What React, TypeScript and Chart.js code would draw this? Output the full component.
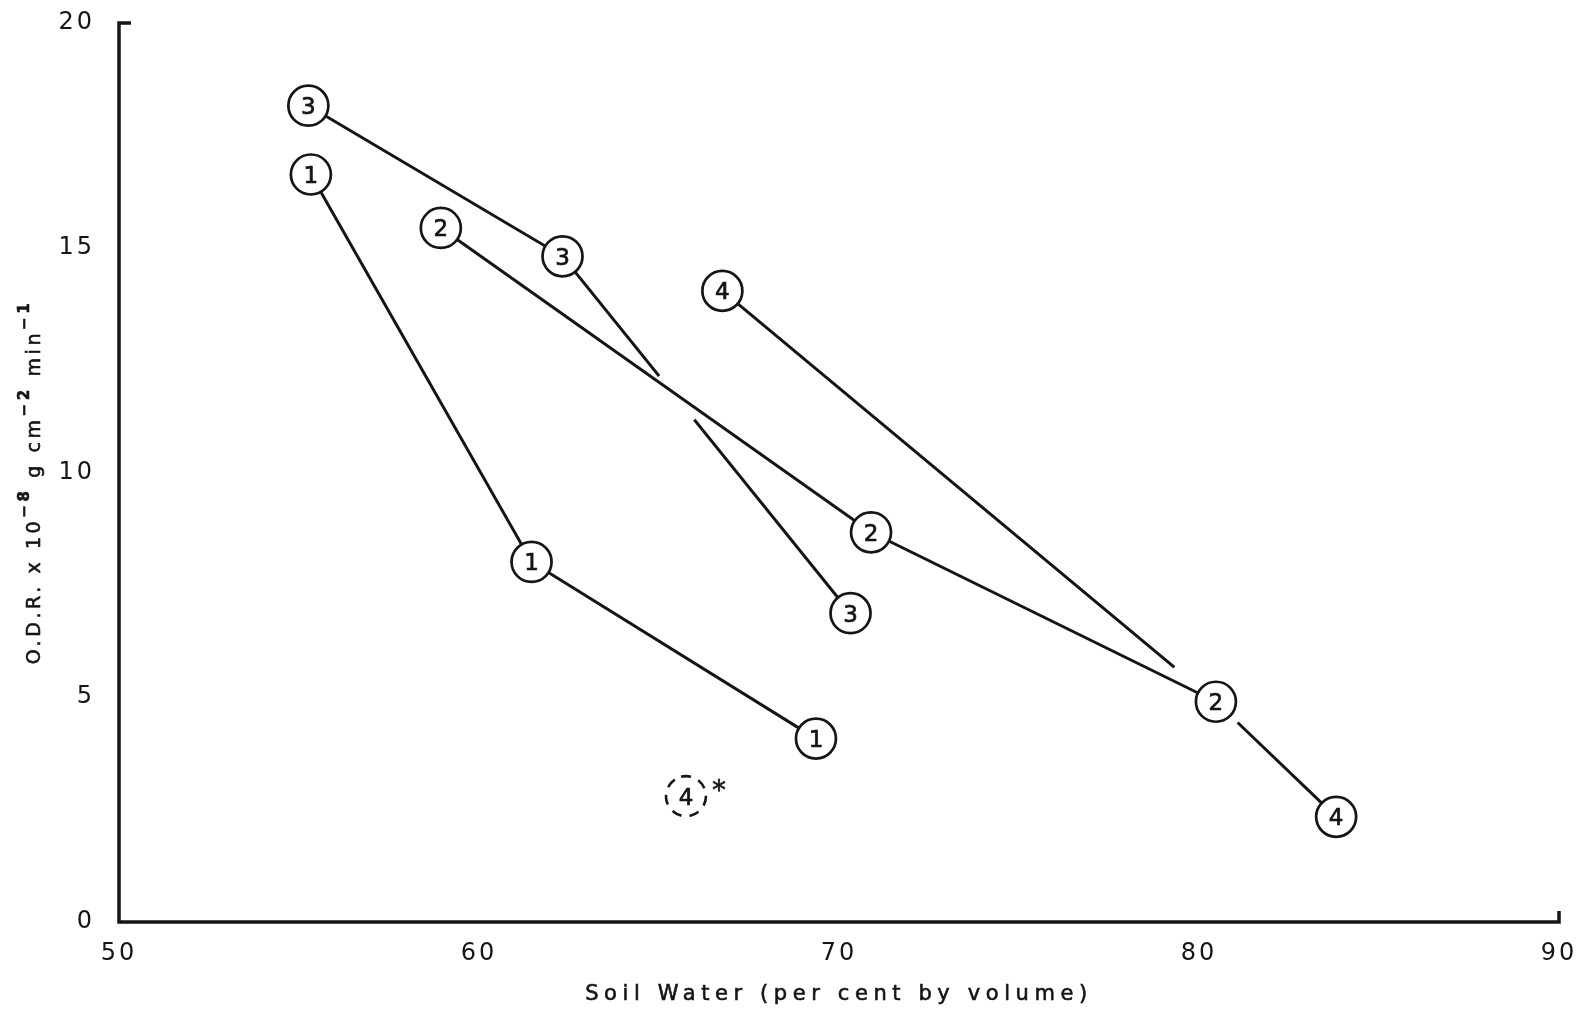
import { useEffect, useRef } from "react";
import { Chart, registerables } from "chart.js";

Chart.register(...registerables);

// Axis ticks
const X_TICKS = [50, 60, 70, 80, 90];
const Y_TICKS = [0, 5, 10, 15, 20];

// Soil water (% by volume) and O.D.R. (x 10^-8 g cm^-2 min^-1) for each numbered series
const SERIES_LABELS = ["1", "2", "3", "4"];
const S1_X = [55.33, 61.46, 69.36];
const S1_Y = [16.63, 8.01, 4.08];
const S2_X = [58.94, 70.89, 80.47];
const S2_Y = [15.44, 8.67, 4.9];
const S3_X = [55.26, 62.32, 70.32];
const S3_Y = [18.16, 14.81, 6.87];
const S4_X = [66.76, 80.47, 83.81];
const S4_Y = [14.04, 4.9, 2.34];

// Separate (asterisked) observation of series 4
const EXTRA_X = [65.75];
const EXTRA_Y = [2.8];
const EXTRA_LABEL = "4";

const X_TITLE = "Soil Water (per cent by volume)";
const Y_TITLE_PARTS: [string, boolean][] = [
  ["O.D.R. x 10", false],
  ["\u22128", true],
  [" g cm", false],
  ["\u22122", true],
  [" min", false],
  ["\u22121", true],
];

const INK = "#151515";
const FONT = "'DejaVu Sans', 'Liberation Sans', sans-serif";
const MARKER_R = 20;

const toPoints = (xs: number[], ys: number[]) => xs.map((x, i) => ({ x, y: ys[i] }));

type P = { x: number; y: number };
const along = (from: P, to: P, d: number): P => {
  const dx = to.x - from.x;
  const dy = to.y - from.y;
  const L = Math.hypot(dx, dy) || 1;
  return { x: from.x + (dx / L) * d, y: from.y + (dy / L) * d };
};
const intersect = (a: P, b: P, c: P, d: P): P | null => {
  const den = (a.x - b.x) * (c.y - d.y) - (a.y - b.y) * (c.x - d.x);
  if (Math.abs(den) < 1e-9) return null;
  const t = ((a.x - c.x) * (c.y - d.y) - (a.y - c.y) * (c.x - d.x)) / den;
  return { x: a.x + t * (b.x - a.x), y: a.y + t * (b.y - a.y) };
};

// Breaks in the pen lines where they pass other lines / markers
const lineBreaks = {
  id: "lineBreaks",
  afterDatasetDraw(chart: any, args: any) {
    const ctx = chart.ctx as CanvasRenderingContext2D;
    const pts: P[] = args.meta.data.map((e: any) => ({ x: e.x, y: e.y }));
    const erase = (a: P, b: P) => {
      ctx.save();
      ctx.strokeStyle = "#ffffff";
      ctx.lineWidth = 7;
      ctx.lineCap = "butt";
      ctx.beginPath();
      ctx.moveTo(a.x, a.y);
      ctx.lineTo(b.x, b.y);
      ctx.stroke();
      ctx.restore();
    };
    if (args.index === 2) {
      const q: P[] = chart.getDatasetMeta(1).data.map((e: any) => ({ x: e.x, y: e.y }));
      const c = intersect(pts[1], pts[2], q[0], q[1]);
      if (c) erase(along(c, pts[1], 19), along(c, pts[2], 37));
    }
    if (args.index === 3) {
      const m = pts[1];
      erase(m, along(m, pts[0], 54));
      erase(m, along(m, pts[2], 30));
    }
  },
};

const drawLettering = (ctx: CanvasRenderingContext2D, text: string, x: number, y: number) => {
  ctx.fillText(text, x, y);
  ctx.strokeText(text, x, y);
};

const decorations = {
  id: "decorations",
  beforeDraw(chart: any) {
    (chart.ctx as any).letterSpacing = "3px";
  },
  beforeDatasetsDraw(chart: any) {
    const ctx = chart.ctx as CanvasRenderingContext2D;
    const { left, right, top, bottom } = chart.chartArea;
    ctx.save();
    ctx.strokeStyle = INK;
    ctx.lineWidth = 3.5;
    ctx.lineJoin = "miter";
    ctx.lineCap = "butt";
    ctx.beginPath();
    ctx.moveTo(left + 12, top);
    ctx.lineTo(left, top);
    ctx.lineTo(left, bottom);
    ctx.lineTo(right, bottom);
    ctx.lineTo(right, bottom - 11);
    ctx.stroke();
    ctx.restore();
  },
  afterDatasetsDraw(chart: any) {
    const ctx = chart.ctx as CanvasRenderingContext2D;
    ctx.save();
    (ctx as any).letterSpacing = "0px";
    ctx.fillStyle = INK;
    ctx.strokeStyle = INK;
    ctx.lineWidth = 0.7;
    ctx.font = `23px ${FONT}`;
    ctx.textAlign = "center";
    ctx.textBaseline = "alphabetic";
    SERIES_LABELS.forEach((lab, di) => {
      chart.getDatasetMeta(di).data.forEach((el: any) => {
        if (el.options.radius > 0) drawLettering(ctx, lab, el.x, el.y + 8.5);
      });
    });
    // dashed marker with asterisk
    chart.getDatasetMeta(4).data.forEach((el: any) => {
      ctx.save();
      ctx.strokeStyle = INK;
      ctx.lineWidth = 2.6;
      ctx.setLineDash([10, 8]);
      ctx.beginPath();
      ctx.arc(el.x, el.y, MARKER_R, -Math.PI / 2 - 0.25, Math.PI * 1.5 - 0.25);
      ctx.stroke();
      ctx.restore();
      drawLettering(ctx, EXTRA_LABEL, el.x, el.y + 8.5);
      ctx.font = `27px ${FONT}`;
      drawLettering(ctx, "*", el.x + 33, el.y + 3);
    });
    ctx.restore();
  },
  afterDraw(chart: any) {
    const ctx = chart.ctx as CanvasRenderingContext2D;
    const { left, right } = chart.chartArea;
    ctx.save();
    ctx.fillStyle = INK;
    ctx.strokeStyle = INK;
    ctx.lineWidth = 0.6;
    // x title
    (ctx as any).letterSpacing = "5.6px";
    ctx.font = `21px ${FONT}`;
    ctx.textAlign = "center";
    ctx.textBaseline = "alphabetic";
    drawLettering(ctx, X_TITLE, (left + right) / 2, 1000);
    // y title, rotated, with superscripts
    (ctx as any).letterSpacing = "3.6px";
    ctx.translate(40, 482);
    ctx.rotate(-Math.PI / 2);
    ctx.textAlign = "left";
    const fontFor = (sup: boolean) => (sup ? `bold 15px ${FONT}` : `19px ${FONT}`);
    const widths = Y_TITLE_PARTS.map(([t, sup]) => {
      ctx.font = fontFor(sup);
      return ctx.measureText(t).width;
    });
    const total = widths.reduce((a, b) => a + b, 0);
    let x = -total / 2;
    Y_TITLE_PARTS.forEach(([t, sup], i) => {
      ctx.font = fontFor(sup);
      drawLettering(ctx, t, x, sup ? -11 : 0);
      x += widths[i];
    });
    ctx.restore();
  },
};

const lineDataset = (xs: number[], ys: number[], order: number, radii?: number[]) => ({
  data: toPoints(xs, ys),
  order,
  showLine: true,
  borderColor: INK,
  borderWidth: 3,
  tension: 0,
  fill: false,
  pointStyle: "circle",
  pointRadius: radii ?? MARKER_R,
  pointHoverRadius: radii ?? MARKER_R,
  pointBackgroundColor: "#ffffff",
  pointBorderColor: INK,
  pointBorderWidth: 2.7,
});

export default function App() {
  const ref = useRef<HTMLCanvasElement>(null);
  useEffect(() => {
    if (!ref.current) return;
    const chart = new Chart(ref.current, {
      type: "scatter",
      data: {
        datasets: [
          lineDataset(S1_X, S1_Y, 1),
          lineDataset(S2_X, S2_Y, 0),
          lineDataset(S3_X, S3_Y, 2),
          lineDataset(S4_X, S4_Y, 2, [MARKER_R, 0, MARKER_R]),
          {
            data: toPoints(EXTRA_X, EXTRA_Y),
            order: 3,
            showLine: false,
            pointRadius: MARKER_R,
            pointBackgroundColor: "rgba(0,0,0,0)",
            pointBorderColor: "rgba(0,0,0,0)",
          } as any,
        ] as any,
      },
      options: {
        responsive: false,
        animation: false,
        events: [],
        layout: { autoPadding: false, padding: { top: 23, right: 20, left: 0, bottom: 0 } },
        plugins: { legend: { display: false }, tooltip: { enabled: false } },
        scales: {
          x: {
            type: "linear",
            min: X_TICKS[0],
            max: X_TICKS[X_TICKS.length - 1],
            grid: { display: false, drawTicks: false },
            border: { display: false },
            afterBuildTicks: (s: any) => {
              s.ticks = X_TICKS.map((v) => ({ value: v }));
            },
            afterFit: (s: any) => {
              s.height = 89;
              s.paddingLeft = 0;
              s.paddingRight = 0;
            },
            ticks: {
              padding: 17,
              color: INK,
              font: { family: FONT, size: 24 },
              maxRotation: 0,
              autoSkip: false,
            },
          },
          y: {
            type: "linear",
            min: Y_TICKS[0],
            max: Y_TICKS[Y_TICKS.length - 1],
            grid: { display: false, drawTicks: false },
            border: { display: false },
            afterBuildTicks: (s: any) => {
              s.ticks = Y_TICKS.map((v) => ({ value: v }));
            },
            afterFit: (s: any) => {
              s.width = 119;
              s.paddingTop = 0;
              s.paddingBottom = 0;
            },
            ticks: {
              padding: 24,
              color: INK,
              font: { family: FONT, size: 24 },
              autoSkip: false,
            },
          },
        },
      },
      plugins: [lineBreaks, decorations],
    } as any);
    return () => chart.destroy();
  }, []);
  return (
    <div style={{ position: "fixed", left: 0, top: 0, width: 1579, height: 1011, background: "#fff" }}>
      <canvas ref={ref} width={1579} height={1011} style={{ display: "block" }} />
    </div>
  );
}
